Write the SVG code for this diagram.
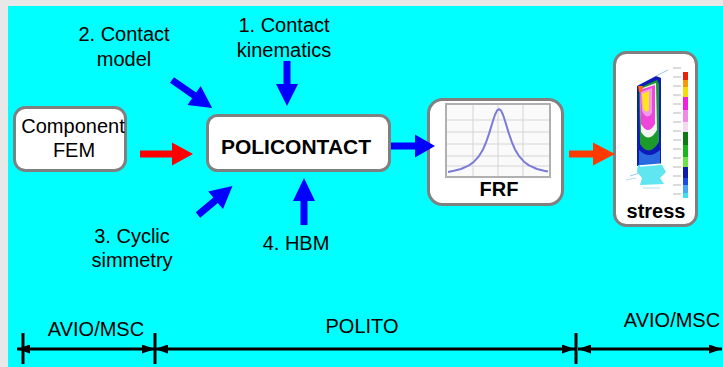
<svg xmlns="http://www.w3.org/2000/svg" width="723" height="367" viewBox="0 0 723 367">
  <style>
    .box { fill: #ffffff; stroke: #808080; stroke-width: 3; }
    .lbl { font-family: "Liberation Sans", Arial, sans-serif; font-size: 20px; fill: #000000; text-anchor: middle; }
    .bold { font-weight: bold; }
    .blue { fill: #0000ff; }
    .red { fill: #ff0000; }
    .orange { fill: #ff3a00; }
    .grid { stroke: #d4d4d4; stroke-width: 1; }
    .span { stroke: #000000; stroke-width: 3; fill: none; marker-start: url(#headL); marker-end: url(#headR); }
    .tick { stroke: #000000; stroke-width: 3; }
    .legtick { stroke: #c4c4c4; stroke-width: 1.2; }
  </style>
  <defs>
    <marker id="headR" viewBox="0 0 13 9" refX="13" refY="4.5" markerWidth="13" markerHeight="9" markerUnits="userSpaceOnUse" orient="auto">
      <path d="M0,0 L13,4.5 L0,9 Z" fill="#000000"/>
    </marker>
    <marker id="headL" viewBox="0 0 13 9" refX="0" refY="4.5" markerWidth="13" markerHeight="9" markerUnits="userSpaceOnUse" orient="auto">
      <path d="M13,0 L0,4.5 L13,9 Z" fill="#000000"/>
    </marker>
    <filter id="soft" x="-10%" y="-10%" width="120%" height="120%">
      <feGaussianBlur stdDeviation="0.7"/>
    </filter>
  </defs>

  <!-- page -->
  <rect x="0" y="0" width="723" height="367" fill="#e8e8e8"/>
  <rect x="8" y="6" width="715" height="361" fill="#00ffff"/>

  <!-- input labels -->
  <g id="label-kinematics">
    <text class="lbl" x="284" y="32">1. Contact</text>
    <text class="lbl" x="284" y="57">kinematics</text>
  </g>
  <g id="label-model">
    <text class="lbl" x="124" y="41">2. Contact</text>
    <text class="lbl" x="124" y="66">model</text>
  </g>
  <g id="label-cyclic">
    <text class="lbl" x="132" y="243">3. Cyclic</text>
    <text class="lbl" x="132" y="267">simmetry</text>
  </g>
  <g id="label-hbm">
    <text class="lbl" x="296" y="250">4. HBM</text>
  </g>

  <!-- nodes -->
  <g id="node-component">
    <rect class="box" x="14.5" y="107.5" width="111" height="63" rx="11"/>
    <text class="lbl" x="73" y="133">Component</text>
    <text class="lbl" x="74" y="157">FEM</text>
  </g>

  <g id="node-policontact">
    <rect class="box" x="207.5" y="115.5" width="182" height="55" rx="10"/>
    <text class="lbl bold" x="296" y="154" style="font-size:21px">POLICONTACT</text>
  </g>

  <g id="node-frf">
    <rect class="box" x="428.5" y="99.5" width="134" height="105" rx="14"/>
    <rect x="446" y="104" width="104" height="73" fill="#fafafa" stroke="#b0b0b0" stroke-width="2"/>
    <line class="grid" x1="473" y1="105" x2="473" y2="176"/>
    <line class="grid" x1="498" y1="105" x2="498" y2="176"/>
    <line class="grid" x1="523" y1="105" x2="523" y2="176"/>
    <line class="grid" x1="447" y1="120" x2="549" y2="120"/>
    <line class="grid" x1="447" y1="132" x2="549" y2="132"/>
    <line class="grid" x1="447" y1="144" x2="549" y2="144"/>
    <line class="grid" x1="447" y1="156" x2="549" y2="156"/>
    <line class="grid" x1="447" y1="166" x2="549" y2="166"/>
    <polyline fill="none" stroke="#7b7bd8" stroke-width="2" stroke-linejoin="round"
      points="448,171.9 454,170.8 461,169 469,165.4 474,161.7 479,156.1 483,149.4 486,142.5 489,133.9 491,127.4 493,120.8 495,114.8 497,110.6 499,109 501,110.6 503,114.8 505,120.8 507,127.4 509,133.9 512,142.5 515,149.4 519,156.1 524,161.7 529,165.4 537,169 544,170.8 548,171.6"/>
    <text class="lbl bold" x="499" y="196">FRF</text>
  </g>

  <g id="node-stress">
    <rect class="box" x="614.5" y="52.5" width="82" height="173" rx="12"/>
    <g filter="url(#soft)">
      <!-- blade contour -->
      <path d="M637,86 L656,76 L661,78 L661,166 L637,166 Z" fill="#0a1ab8"/>
      <path d="M639,88 L657,80 L659,84 L659,142 Q649,158 640,144 Z" fill="#1d9b2a"/>
      <path d="M640,89 L656,83 L657,130 Q649,144 641,132 Z" fill="#f4f4f4"/>
      <path d="M640,90 L655,85 L655,124 Q648,136 641,124 Z" fill="#ee44dd"/>
      <path d="M641,92 L652,88 L652,113 Q647,121 642,111 Z" fill="#f29ae8"/>
      <path d="M642,94 L649,91 L649,110 Q646,114 643,108 Z" fill="#ffe51a"/>
      <path d="M638,86 L643,86 L642,92 L639,92 Z" fill="#ff6a1a"/>
      <path d="M639,150 Q649,160 660,150 L660,166 L639,166 Z" fill="#2a6ae0"/>
      <path d="M656,76 L668,70" stroke="#9cc6e0" stroke-width="1"/>
      <!-- root -->
      <path d="M638,165 L662,165 L666,172 L660,178 L664,184 L640,185 L642,178 L637,172 Z" fill="#5fe6f0"/>
      <path d="M640,166 L663,164" stroke="#ffffff" stroke-width="1.5"/>
      <path d="M630,176 L640,173" stroke="#8fcfe8" stroke-width="1"/>
      <path d="M626,180 L636,178" stroke="#b6dcec" stroke-width="1"/>
      <path d="M643,188 L660,188" stroke="#b0e0f0" stroke-width="1"/>
      <!-- colour legend -->
      <rect x="683" y="66" width="5" height="6" fill="#ffffff"/>
      <rect x="683" y="72" width="5" height="8" fill="#e8200e"/>
      <rect x="683" y="80" width="5" height="7" fill="#f59a10"/>
      <rect x="683" y="87" width="5" height="10" fill="#f5dc10"/>
      <rect x="683" y="97" width="5" height="13" fill="#ee22dd"/>
      <rect x="683" y="110" width="5" height="12" fill="#f08ce8"/>
      <rect x="683" y="122" width="5" height="10" fill="#f4d8f0"/>
      <rect x="683" y="132" width="5" height="13" fill="#107a18"/>
      <rect x="683" y="145" width="5" height="12" fill="#1cb41c"/>
      <rect x="683" y="157" width="5" height="10" fill="#6ee04a"/>
      <rect x="683" y="167" width="5" height="11" fill="#0a1aa8"/>
      <rect x="683" y="178" width="5" height="7" fill="#1a4ee0"/>
      <rect x="683" y="185" width="5" height="8" fill="#4aa6f0"/>
      <rect x="683" y="193" width="5" height="5" fill="#40e0f0"/>
      <line class="legtick" x1="673" y1="68" x2="681" y2="68"/>
      <line class="legtick" x1="673" y1="77" x2="681" y2="77"/>
      <line class="legtick" x1="673" y1="86" x2="681" y2="86"/>
      <line class="legtick" x1="673" y1="95" x2="681" y2="95"/>
      <line class="legtick" x1="673" y1="104" x2="681" y2="104"/>
      <line class="legtick" x1="673" y1="113" x2="681" y2="113"/>
      <line class="legtick" x1="673" y1="122" x2="681" y2="122"/>
      <line class="legtick" x1="673" y1="131" x2="681" y2="131"/>
      <line class="legtick" x1="673" y1="140" x2="681" y2="140"/>
      <line class="legtick" x1="673" y1="149" x2="681" y2="149"/>
      <line class="legtick" x1="673" y1="158" x2="681" y2="158"/>
      <line class="legtick" x1="673" y1="167" x2="681" y2="167"/>
      <line class="legtick" x1="673" y1="176" x2="681" y2="176"/>
      <line class="legtick" x1="673" y1="185" x2="681" y2="185"/>
      <line class="legtick" x1="673" y1="194" x2="681" y2="194"/>
    </g>
    <text class="lbl bold" x="656" y="218">stress</text>
  </g>

  <!-- connectors: block arrows drawn from tail (origin) towards +x, then rotated -->
  <g id="connectors">
    <path class="red" transform="translate(140,154)" d="M0,-3.5 H32 V-11.5 L53,0 L32,11.5 V3.5 H0 Z"/>
    <path class="blue" transform="translate(391,146)" d="M0,-3.5 H24 V-11.5 L44,0 L24,11.5 V3.5 H0 Z"/>
    <path class="orange" transform="translate(569,154)" d="M0,-3.5 H24 V-11.5 L46,0 L24,11.5 V3.5 H0 Z"/>
    <path class="blue" transform="translate(287,61) rotate(90)" d="M0,-3.5 H23 V-11 L45,0 L23,11 V3.5 H0 Z"/>
    <path class="blue" transform="translate(304,225) rotate(-90)" d="M0,-3.5 H24 V-11 L47,0 L24,11 V3.5 H0 Z"/>
    <path class="blue" transform="translate(172,80) rotate(35)" d="M0,-3.5 H27 V-11.5 L49,0 L27,11.5 V3.5 H0 Z"/>
    <path class="blue" transform="translate(198,215) rotate(-40)" d="M0,-3.5 H23 V-11.5 L45,0 L23,11.5 V3.5 H0 Z"/>
  </g>

  <!-- responsibility time line -->
  <g id="timeline">
    <line class="span" x1="17" y1="349" x2="155" y2="349"/>
    <line class="span" x1="155" y1="349" x2="575" y2="349"/>
    <line class="span" x1="578" y1="349" x2="722" y2="349"/>
    <line class="tick" x1="23" y1="333" x2="23" y2="364"/>
    <line class="tick" x1="155" y1="333" x2="155" y2="364"/>
    <line class="tick" x1="576" y1="333" x2="576" y2="364"/>
    <text class="lbl" x="96" y="336">AVIO/MSC</text>
    <text class="lbl" x="362" y="333">POLITO</text>
    <text class="lbl" x="672" y="327">AVIO/MSC</text>
  </g>
</svg>
